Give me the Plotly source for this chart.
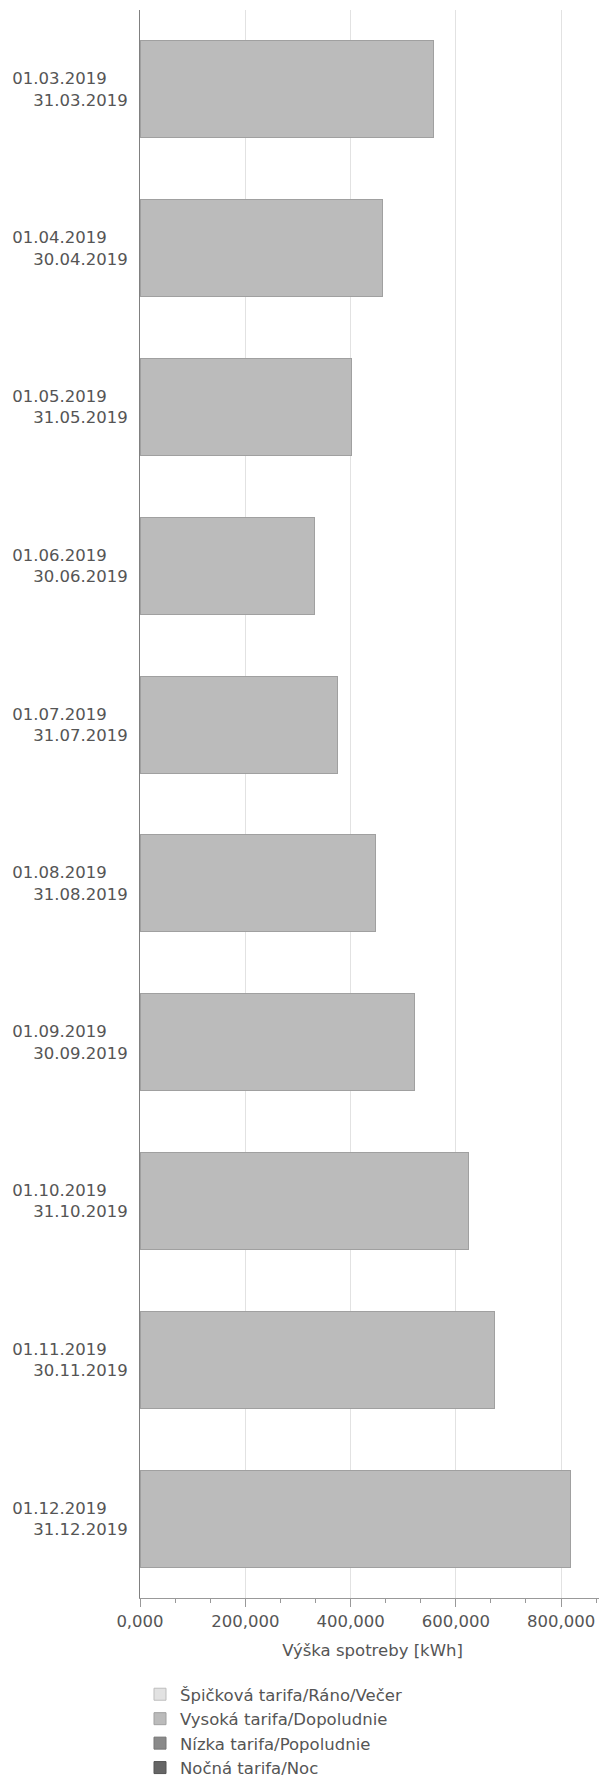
import plotly.graph_objects as go

# ---- data ----
period_start = ["01.03.2019", "01.04.2019", "01.05.2019", "01.06.2019", "01.07.2019",
                "01.08.2019", "01.09.2019", "01.10.2019", "01.11.2019", "01.12.2019"]
period_end = ["31.03.2019", "30.04.2019", "31.05.2019", "30.06.2019", "31.07.2019",
              "31.08.2019", "30.09.2019", "31.10.2019", "30.11.2019", "31.12.2019"]
series_names = ["Špičková tarifa/Ráno/Večer", "Vysoká tarifa/Dopoludnie",
                "Nízka tarifa/Popoludnie", "Nočná tarifa/Noc"]
spickova = [None] * 10
vysoka = [557, 461, 401, 332, 375, 448, 521, 624, 673, 818]
nizka = [None] * 10
nocna = [None] * 10
x_title = "Výška spotreby [kWh]"

# ---- styling ----
FONT = "DejaVu Sans"
FS = 16.5
TXT = "#555555"
colors = ["#e2e2e2", "#bbbbbb", "#8a8a8a", "#666666"]
line_colors = ["#bdbdbd", "#a0a0a0", "#777777", "#555555"]

# the page body has an 8px default margin, so the figure is sized to fit the window
W, H = 599, 1779

pad = "\u00a0" * 4
categories = [f"{s}{pad}<br>{e}" for s, e in zip(period_start, period_end)]

fig = go.Figure()
for name, vals, c, lc in zip(series_names, [spickova, vysoka, nizka, nocna], colors, line_colors):
    fig.add_trace(go.Bar(
        y=categories, x=vals, name=name, orientation="h",
        marker=dict(color=c, line=dict(color=lc, width=1)),
    ))

fig.update_layout(
    width=W, height=H,
    margin=dict(l=132, r=2, t=2, b=189, autoexpand=False),
    barmode="stack", bargap=0.39,
    plot_bgcolor="white", paper_bgcolor="white",
    font=dict(family=FONT, size=FS, color=TXT),
    showlegend=True,
    legend=dict(
        orientation="v", xref="container", yref="container",
        x=132 / W, xanchor="left", y=1 - 1669 / H, yanchor="top",
        font=dict(family=FONT, size=FS, color=TXT),
        traceorder="normal", itemclick=False, tracegroupgap=0,
        bgcolor="rgba(0,0,0,0)",
    ),
    separators=",.",
)
fig.update_xaxes(
    range=[0, 883.5], tickvals=[0, 200, 400, 600, 800], tickformat=".3f",
    tickangle=0, automargin=False,
    showgrid=True, gridcolor="#e2e2e2", gridwidth=1,
    showline=True, linecolor="#999999", linewidth=1,
    ticks="outside", ticklen=8, tickcolor="#999999", tickwidth=1,
    minor=dict(dtick=200 / 3, tick0=0, ticks="outside", ticklen=4, tickcolor="#999999", showgrid=False),
    zeroline=False,
    title=dict(text=x_title, font=dict(family=FONT, size=FS, color=TXT), standoff=14),
    tickfont=dict(family=FONT, size=FS, color=TXT),
)
fig.update_yaxes(
    autorange="reversed", showgrid=False, automargin=False,
    showline=True, linecolor="#808080", linewidth=1,
    ticks="", ticklabelstandoff=8,
    tickfont=dict(family=FONT, size=FS, color=TXT),
)

fig.write_html("out.html")
